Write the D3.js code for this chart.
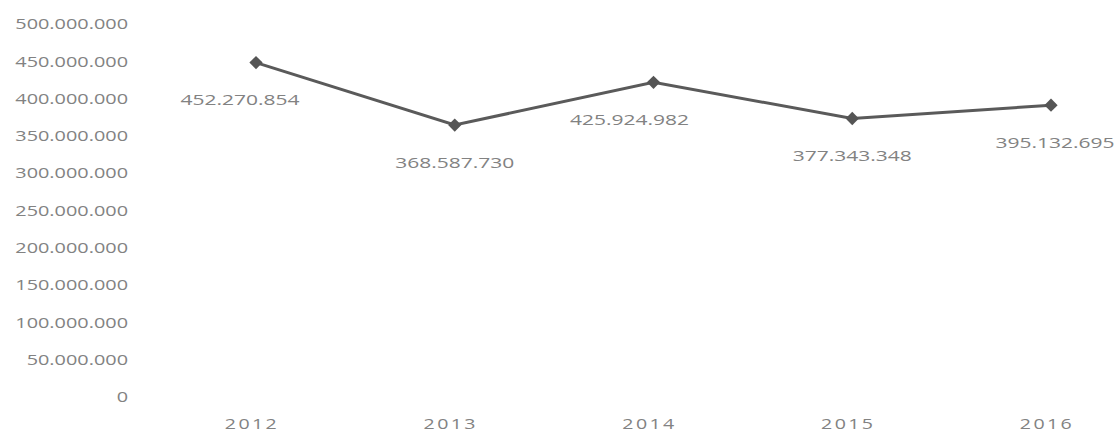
<!DOCTYPE html>
<html lang="en">
<head>
    <meta charset="utf-8" />
    <title>Line Chart</title>
    <script src="https://cdnjs.cloudflare.com/ajax/libs/d3/7.8.5/d3.min.js"></script>
    <style>
        body { margin: 0; background: #fff; }
        .tick-label, .x-label, .value-label {
            font-family: "Open Sans", sans-serif;
            fill: #828282;
            font-size: 14px;
        }
    </style>
</head>
<body>
<div id="chart"></div>
<script>
    const years = ["2012", "2013", "2014", "2015", "2016"];
    const values = [452270854, 368587730, 425924982, 377343348, 395132695];
    const yTicks = [0, 50000000, 100000000, 150000000, 200000000, 250000000,
                    300000000, 350000000, 400000000, 450000000, 500000000];
    // small horizontal nudges for the value labels, as in the original
    const labelShift = [-16, 0, -24, 0, 4];

    const width = 1117;
    const height = 435;

    const svg = d3.select("#chart")
        .append("svg")
        .attr("width", width)
        .attr("height", height);

    const x = d3.scalePoint()
        .domain(years)
        .range([256, 1051]);

    const y = d3.scaleLinear()
        .domain([0, 500000000])
        .range([400, 27]);

    // dots as thousands separator
    const fmt = d3.formatLocale({ decimal: ",", thousands: ".", grouping: [3], currency: ["", ""] }).format(",d");

    // y axis labels (no axis line, no grid)
    svg.append("g")
        .selectAll("text")
        .data(yTicks)
        .enter()
        .append("text")
        .attr("class", "tick-label")
        .attr("transform", d => `translate(128,${y(d) - 3}) scale(1.42,1)`)
        .attr("text-anchor", "end")
        .attr("dominant-baseline", "central")
        .text(d => fmt(d));

    // x axis labels
    svg.append("g")
        .selectAll("text")
        .data(years)
        .enter()
        .append("text")
        .attr("class", "x-label")
        .attr("transform", d => `translate(${x(d) - 4},424) scale(1.4,1)`)
        .attr("text-anchor", "middle")
        .attr("dominant-baseline", "central")
        .style("letter-spacing", "1.7px")
        .text(d => d);

    const line = d3.line()
        .x((d, i) => x(years[i]))
        .y(d => y(d));

    svg.append("path")
        .datum(values)
        .attr("fill", "none")
        .attr("stroke", "#5a5a5a")
        .attr("stroke-width", 3)
        .attr("d", line);

    svg.append("g")
        .selectAll("path")
        .data(values)
        .enter()
        .append("path")
        .attr("d", d3.symbol().type(d3.symbolSquare).size(88))
        .attr("transform", (d, i) => `translate(${x(years[i])},${y(d)}) rotate(45)`)
        .attr("fill", "#555");

    // value labels below each point
    svg.append("g")
        .selectAll("text")
        .data(values)
        .enter()
        .append("text")
        .attr("class", "value-label")
        .attr("transform", (d, i) => `translate(${x(years[i]) + labelShift[i]},${y(d) + 37}) scale(1.5,1)`)
        .attr("text-anchor", "middle")
        .attr("dominant-baseline", "central")
        .text(d => fmt(d));
</script>
</body>
</html>
